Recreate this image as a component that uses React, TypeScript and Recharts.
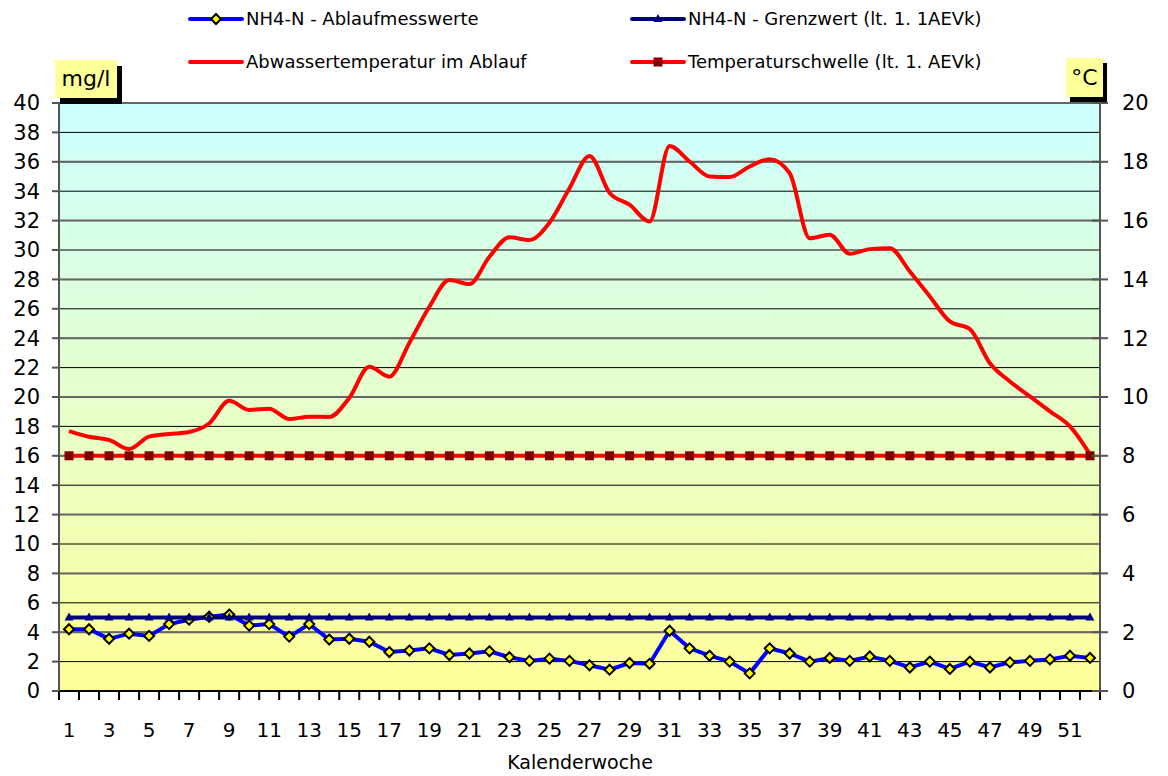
import React from 'react'
import { ComposedChart, Line, XAxis, YAxis, CartesianGrid } from 'recharts'

const FONT = '"DejaVu Sans", sans-serif'

// Kalenderwochen
const weeks = [
  1, 2, 3, 4, 5, 6, 7, 8, 9, 10, 11, 12, 13, 14, 15, 16, 17, 18, 19, 20, 21, 22, 23, 24, 25, 26,
  27, 28, 29, 30, 31, 32, 33, 34, 35, 36, 37, 38, 39, 40, 41, 42, 43, 44, 45, 46, 47, 48, 49, 50, 51, 52,
]

// NH4-N Ablaufmesswerte (mg/l)
const nh4Ablauf = [
  4.2, 4.2, 3.55, 3.9, 3.75, 4.55, 4.85, 5.05, 5.2, 4.45, 4.55, 3.7, 4.55, 3.5, 3.55, 3.35, 2.65,
  2.75, 2.9, 2.45, 2.55, 2.7, 2.3, 2.05, 2.2, 2.05, 1.75, 1.45, 1.9, 1.85, 4.1, 2.9, 2.4, 2.0, 1.2,
  2.9, 2.55, 2.0, 2.25, 2.05, 2.35, 2.05, 1.6, 2.0, 1.5, 2.0, 1.6, 1.95, 2.05, 2.15, 2.4, 2.25,
]

// NH4-N Grenzwert (mg/l)
const nh4Grenzwert = [
  5, 5, 5, 5, 5, 5, 5, 5, 5, 5, 5, 5, 5, 5, 5, 5, 5, 5, 5, 5, 5, 5, 5, 5, 5, 5,
  5, 5, 5, 5, 5, 5, 5, 5, 5, 5, 5, 5, 5, 5, 5, 5, 5, 5, 5, 5, 5, 5, 5, 5, 5, 5,
]

// Abwassertemperatur im Ablauf (°C)
const temperatur = [
  8.84, 8.65, 8.54, 8.23, 8.65, 8.74, 8.81, 9.1, 9.87, 9.56, 9.6, 9.25, 9.33, 9.32, 9.97, 11.03,
  10.69, 11.84, 13.07, 13.98, 13.84, 14.77, 15.43, 15.34, 15.93, 17.1, 18.2, 16.95, 16.54, 15.97,
  18.54, 18.01, 17.5, 17.48, 17.84, 18.09, 17.61, 15.4, 15.52, 14.87, 15.03, 15.06, 14.27, 13.42,
  12.57, 12.31, 11.15, 10.53, 10.02, 9.51, 9.0, 8.05,
]

// Temperaturschwelle (°C)
const tempSchwelle = [
  8, 8, 8, 8, 8, 8, 8, 8, 8, 8, 8, 8, 8, 8, 8, 8, 8, 8, 8, 8, 8, 8, 8, 8, 8, 8,
  8, 8, 8, 8, 8, 8, 8, 8, 8, 8, 8, 8, 8, 8, 8, 8, 8, 8, 8, 8, 8, 8, 8, 8, 8, 8,
]

const weekLabels = [1, 3, 5, 7, 9, 11, 13, 15, 17, 19, 21, 23, 25, 27, 29, 31, 33, 35, 37, 39, 41, 43, 45, 47, 49, 51]
const leftTicks = [0, 2, 4, 6, 8, 10, 12, 14, 16, 18, 20, 22, 24, 26, 28, 30, 32, 34, 36, 38, 40]
const rightTicks = [0, 2, 4, 6, 8, 10, 12, 14, 16, 18, 20]
// tick marks sit between the weeks
const weekBounds = [...weeks.map((w) => w - 0.5), 52.5]

const data = weeks.map((week, i) => ({
  week,
  ablauf: nh4Ablauf[i],
  grenzwert: nh4Grenzwert[i],
  temp: temperatur[i],
  schwelle: tempSchwelle[i],
}))

const diamondDot = (p: any) => {
  const { cx, cy, index } = p
  if (cx == null || cy == null) return <g key={`dia-${index}`} />
  const s = 5
  return (
    <polygon
      key={`dia-${index}`}
      points={`${cx},${cy - s} ${cx + s},${cy} ${cx},${cy + s} ${cx - s},${cy}`}
      fill="#FFFF00"
      stroke="#000"
      strokeWidth={2}
    />
  )
}

const triangleDot = (p: any) => {
  const { cx, cy, index } = p
  if (cx == null || cy == null) return <g key={`tri-${index}`} />
  return (
    <polygon
      key={`tri-${index}`}
      points={`${cx},${cy - 5} ${cx + 4.5},${cy + 3} ${cx - 4.5},${cy + 3}`}
      fill="#000080"
    />
  )
}

const squareDot = (p: any) => {
  const { cx, cy, index } = p
  if (cx == null || cy == null) return <g key={`sq-${index}`} />
  return <rect key={`sq-${index}`} x={cx - 4.5} y={cy - 4.5} width={9} height={9} fill="#800000" />
}

// tick marks drawn by hand (tick text position comes from recharts)
const X_TICK = 9
const boundTick = (p: any) => (
  <rect key={`bt-${p.index}`} x={p.x - 1} y={p.y - X_TICK} width={2} height={X_TICK} fill="#000" />
)

const L_SIZE = 7
const L_GAP = 12
const leftTick = (p: any) => (
  <g key={`lt-${p.index}`}>
    <rect x={p.x + L_GAP} y={p.y - 1} width={L_SIZE} height={2} fill="#555" />
    <text x={p.x} y={p.y} dy="0.355em" textAnchor="end" fontSize={21} fill="#000">
      {p.payload.value}
    </text>
  </g>
)

const R_SIZE = 8
const R_GAP = 14
const rightTick = (p: any) => (
  <g key={`rt-${p.index}`}>
    <rect x={p.x - R_GAP - R_SIZE - 8} y={p.y - 1} width={R_SIZE + 8} height={2} fill="#555" />
    <text x={p.x} y={p.y} dy="0.355em" textAnchor="start" fontSize={21} fill="#000">
      {p.payload.value}
    </text>
  </g>
)

function LegendIcon({ color, marker }: { color: string; marker: string }) {
  return (
    <svg width={56} height={14} style={{ display: 'block' }}>
      <line x1={2} y1={7} x2={54} y2={7} stroke={color} strokeWidth={4} strokeLinecap="round" />
      {marker === 'diamond' && (
        <polygon points="28,2 33,7 28,12 23,7" fill="#FFFF00" stroke="#000" strokeWidth={2} />
      )}
      {marker === 'triangle' && <polygon points="28,2 32.5,10 23.5,10" fill="#000080" />}
      {marker === 'square' && <rect x={23.5} y={2.5} width={9} height={9} fill="#800000" />}
    </svg>
  )
}

const legendItems = [
  { label: 'NH4-N - Ablaufmesswerte', color: '#0000FF', marker: 'diamond', left: 188, top: 19 },
  { label: 'NH4-N - Grenzwert (lt. 1. 1AEVk)', color: '#000080', marker: 'triangle', left: 630, top: 19 },
  { label: 'Abwassertemperatur im Ablauf', color: '#FF0000', marker: 'none', left: 188, top: 62 },
  { label: 'Temperaturschwelle (lt. 1. AEVk)', color: '#FF0000', marker: 'square', left: 630, top: 62 },
]

export default function App() {
  return (
    <div
      style={{
        position: 'absolute',
        left: 0,
        top: 0,
        width: 1168,
        height: 776,
        background: '#fff',
        fontFamily: FONT,
        color: '#000',
      }}
    >
      <ComposedChart
        width={1168}
        height={776}
        data={data}
        margin={{ top: 103, right: 0, bottom: 44, left: 0 }}
        style={{ fontFamily: FONT }}
      >
        <defs>
          <linearGradient id="plotBg" x1="0" y1="0" x2="0" y2="1">
            <stop offset="0" stopColor="#CCFFFF" />
            <stop offset="1" stopColor="#FFFF99" />
          </linearGradient>
        </defs>
        <CartesianGrid
          xAxisId="lab"
          yAxisId="left"
          vertical={false}
          stroke="#000"
          strokeWidth={1}
          fill="url(#plotBg)"
          fillOpacity={1}
        />
        <CartesianGrid xAxisId="lab" yAxisId="right" vertical={false} stroke="#666" strokeWidth={2} />

        <XAxis
          xAxisId="bnd"
          dataKey="week"
          type="number"
          domain={[0.5, 52.5]}
          ticks={weekBounds}
          interval={0}
          tick={boundTick}
          tickSize={X_TICK}
          tickMargin={0}
          tickLine={false}
          axisLine={{ stroke: '#000', strokeWidth: 2 }}
          height={1}
        />
        <XAxis
          xAxisId="lab"
          dataKey="week"
          type="number"
          domain={[0.5, 52.5]}
          ticks={weekLabels}
          interval={0}
          tickSize={0}
          tickMargin={31}
          tickLine={false}
          axisLine={false}
          height={40}
          tick={{ fill: '#000', fontSize: 20 }}
        />
        <YAxis
          yAxisId="left"
          domain={[0, 40]}
          ticks={leftTicks}
          interval={0}
          width={59}
          tickSize={L_SIZE}
          tickMargin={L_GAP}
          tickLine={false}
          axisLine={{ stroke: '#555', strokeWidth: 2 }}
          tick={leftTick}
        />
        <YAxis
          yAxisId="right"
          orientation="right"
          domain={[0, 20]}
          ticks={rightTicks}
          interval={0}
          width={68}
          tickSize={R_SIZE}
          tickMargin={R_GAP}
          tickLine={false}
          axisLine={{ stroke: '#555', strokeWidth: 2 }}
          tick={rightTick}
        />

        <Line
          xAxisId="lab"
          yAxisId="left"
          dataKey="ablauf"
          type="linear"
          stroke="#0000FF"
          strokeWidth={4}
          dot={diamondDot}
          activeDot={false}
          isAnimationActive={false}
        />
        <Line
          xAxisId="bnd"
          yAxisId="left"
          dataKey="grenzwert"
          type="linear"
          stroke="#000080"
          strokeWidth={4}
          dot={triangleDot}
          activeDot={false}
          isAnimationActive={false}
        />
        <Line
          xAxisId="lab"
          yAxisId="right"
          dataKey="temp"
          type="monotone"
          stroke="#FF0000"
          strokeWidth={4}
          dot={false}
          activeDot={false}
          isAnimationActive={false}
        />
        <Line
          xAxisId="bnd"
          yAxisId="right"
          dataKey="schwelle"
          type="linear"
          stroke="#FF0000"
          strokeWidth={4}
          dot={squareDot}
          activeDot={false}
          isAnimationActive={false}
        />
      </ComposedChart>

      {legendItems.map((it) => (
        <div
          key={it.label}
          style={{
            position: 'absolute',
            left: it.left,
            top: it.top - 11,
            height: 22,
            display: 'flex',
            alignItems: 'center',
            whiteSpace: 'nowrap',
            fontSize: 18,
            lineHeight: '22px',
          }}
        >
          <LegendIcon color={it.color} marker={it.marker} />
          <span style={{ marginLeft: 2 }}>{it.label}</span>
        </div>
      ))}

      <div
        style={{
          position: 'absolute',
          left: 55,
          top: 60,
          width: 62,
          height: 38,
          background: '#FFFF99',
          boxShadow: '5px 6px 0 #000',
          fontSize: 22,
          lineHeight: '38px',
          textAlign: 'center',
        }}
      >
        mg/l
      </div>
      <div
        style={{
          position: 'absolute',
          left: 1066,
          top: 58,
          width: 37,
          height: 39,
          background: '#FFFF99',
          boxShadow: '4px 5px 0 #000',
          fontSize: 22,
          lineHeight: '39px',
          textAlign: 'center',
        }}
      >
        °C
      </div>

      <div
        style={{
          position: 'absolute',
          left: 0,
          top: 751,
          width: 1160,
          textAlign: 'center',
          fontSize: 19,
          lineHeight: '22px',
        }}
      >
        Kalenderwoche
      </div>
    </div>
  )
}
